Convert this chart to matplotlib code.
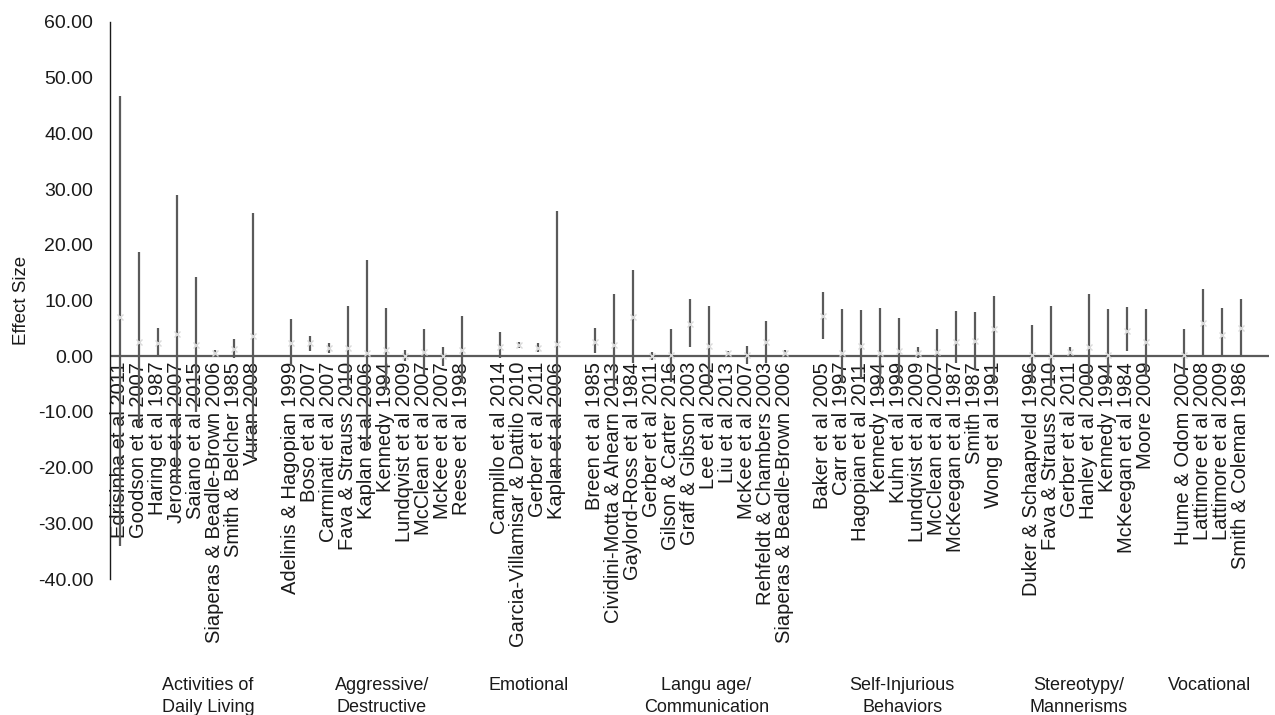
import matplotlib
matplotlib.use("Agg")
import matplotlib.pyplot as plt
import matplotlib.transforms as mtransforms

# Study labels, in plotting order, one block per outcome category
studies = [
    # Activities of Daily Living
    "Edrisinha et al 2011", "Goodson et al 2007", "Haring et al 1987", "Jerome et al 2007",
    "Saiano et al 2015", "Siaperas & Beadle-Brown 2006", "Smith & Belcher 1985", "Vuran 2008",
    # Aggressive/Destructive
    "Adelinis & Hagopian 1999", "Boso et al 2007", "Carminati et al 2007", "Fava & Strauss 2010",
    "Kaplan et al 2006", "Kennedy 1994", "Lundqvist et al 2009", "McClean et al 2007",
    "McKee et al 2007", "Reese et al 1998",
    # Emotional
    "Campillo et al 2014", "Garcia-Villamisar & Dattilo 2010", "Gerber et al 2011", "Kaplan et al 2006",
    # Language/Communication
    "Breen et al 1985", "Cividini-Motta & Ahearn 2013", "Gaylord-Ross et al 1984", "Gerber et al 2011",
    "Gilson & Carter 2016", "Graff & Gibson 2003", "Lee et al 2002", "Liu et al 2013",
    "McKee et al 2007", "Rehfeldt & Chambers 2003", "Siaperas & Beadle-Brown 2006",
    # Self-Injurious Behaviors
    "Baker et al 2005", "Carr et al 1997", "Hagopian et al 2011", "Kennedy 1994", "Kuhn et al 1999",
    "Lundqvist et al 2009", "McClean et al 2007", "McKeegan et al 1987", "Smith 1987", "Wong et al 1991",
    # Stereotypy/Mannerisms
    "Duker & Schaapveld 1996", "Fava & Strauss 2010", "Gerber et al 2011", "Hanley et al 2000",
    "Kennedy 1994", "McKeegan et al 1984", "Moore 2009",
    # Vocational
    "Hume & Odom 2007", "Lattimore et al 2008", "Lattimore et al 2009", "Smith & Coleman 1986",
]

group_names = [
    "Activities of\nDaily Living", "Aggressive/\nDestructive", "Emotional",
    "Langu age/\nCommunication", "Self-Injurious\nBehaviors", "Stereotypy/\nMannerisms", "Vocational",
]
group_sizes = [8, 10, 4, 11, 10, 7, 4]

effect_mean = [
    7.0, 2.6, 2.3, 4.0, 2.0, 0.5, 1.3, 3.7,
    2.4, 2.3, 1.4, 1.5, 0.5, 1.2, 0.1, 0.7, 0.0, 1.1,
    1.7, 2.0, 1.5, 2.2,
    2.5, 2.0, 7.0, 0.0, 0.2, 5.8, 1.8, 0.5, 0.2, 2.5, 0.5,
    7.3, 0.6, 1.8, 0.5, 1.0, 0.6, 0.7, 2.5, 2.7, 4.8,
    0.3, 0.0, 0.8, 1.6, 0.3, 4.6, 2.5,
    0.3, 5.9, 3.8, 5.0,
]
effect_high = [
    46.8, 18.7, 5.0, 29.0, 14.2, 1.2, 3.1, 25.7,
    6.6, 3.6, 2.3, 9.0, 17.3, 8.7, 1.1, 4.8, 1.6, 7.2,
    4.4, 2.6, 2.3, 26.0,
    5.1, 11.1, 15.4, 0.8, 4.8, 10.2, 9.1, 0.95, 1.8, 6.3, 1.2,
    11.6, 8.5, 8.3, 8.7, 6.9, 1.6, 4.8, 8.1, 7.9, 10.8,
    5.6, 9.0, 1.7, 11.1, 8.5, 8.8, 8.5,
    4.8, 12.1, 8.7, 10.3,
]
effect_low = [
    -34.0, -12.8, -0.2, -23.0, -10.0, -0.2, -0.3, -18.5,
    -1.8, 1.0, 0.5, -6.0, -16.3, -6.1, -0.8, -3.4, -1.8, -4.9,
    -0.4, 1.4, 0.8, -21.6,
    0.5, -6.1, -1.2, -0.7, -4.6, 1.6, -5.5, -0.1, -1.4, -1.3, -0.2,
    3.0, -4.9, -4.0, -5.5, -4.9, -0.4, -3.4, -1.3, -2.5, -5.0,
    -4.9, -5.5, 0.0, -5.2, -4.9, 0.9, -3.7,
    -3.7, 0.0, 0.0, 0.0,
]

# Category positions: one empty slot separates consecutive groups
positions = []
group_centres = []
slot = 0
for size in group_sizes:
    block = list(range(slot, slot + size))
    positions.extend(block)
    group_centres.append((block[0] + block[-1]) / 2)
    slot += size + 1
n_slots = slot - 1

# Small horizontal nudges of the group captions (in slot units)
caption_shift = [1.15, 0.3, 0.05, 0.9, -0.3, -0.5, -0.15]

plt.rcParams["font.family"] = ["Liberation Sans", "DejaVu Sans"]

fig = plt.figure(figsize=(12.75, 7.15), dpi=100)
ax = fig.add_axes([110 / 1275, 1 - 579 / 715, 1159 / 1275, 557 / 715])

line_col = "#5a5a5a"
ax.vlines(positions, effect_low, effect_high, color=line_col, linewidth=1.6, zorder=3)
ax.plot(positions, effect_mean, linestyle="none", marker="x", markersize=5,
        markeredgewidth=1.0, color="#dadada", zorder=4)
ax.axhline(0, color=line_col, linewidth=1.6, zorder=2)

ax.set_xlim(-0.5, n_slots + 0.5)
ax.set_ylim(-40, 60)
ax.set_yticks(range(-40, 61, 10))
ax.set_yticklabels([f"{v:.2f}" for v in range(-40, 61, 10)])
ax.tick_params(axis="y", length=0, pad=12, labelsize=14, labelcolor="#1a1a1a")
ax.set_xticks([])
for side in ("top", "right", "bottom"):
    ax.spines[side].set_visible(False)
ax.spines["left"].set_color("#1a1a1a")
ax.spines["left"].set_linewidth(1.0)
ax.set_ylabel("Effect Size", fontsize=13.5, labelpad=6, color="#1a1a1a")

# Study labels hang downward from the zero line
offset = mtransforms.offset_copy(ax.transData, fig=fig, x=0, y=-4, units="points")
for x, name in zip(positions, studies):
    ax.text(x, 0, name, rotation=90, ha="center", va="top", fontsize=14.5,
            color="#1a1a1a", transform=offset, zorder=1)

# Group captions along the bottom
blend = mtransforms.blended_transform_factory(ax.transData, fig.transFigure)
for cx, shift, name in zip(group_centres, caption_shift, group_names):
    ax.text(cx + shift, 1 - 677 / 715, name, ha="center", va="top", fontsize=13,
            linespacing=1.4, family=["Liberation Sans Narrow", "Liberation Sans"],
            color="#1a1a1a", transform=blend, clip_on=False)

fig.savefig("out.png", dpi=100)
